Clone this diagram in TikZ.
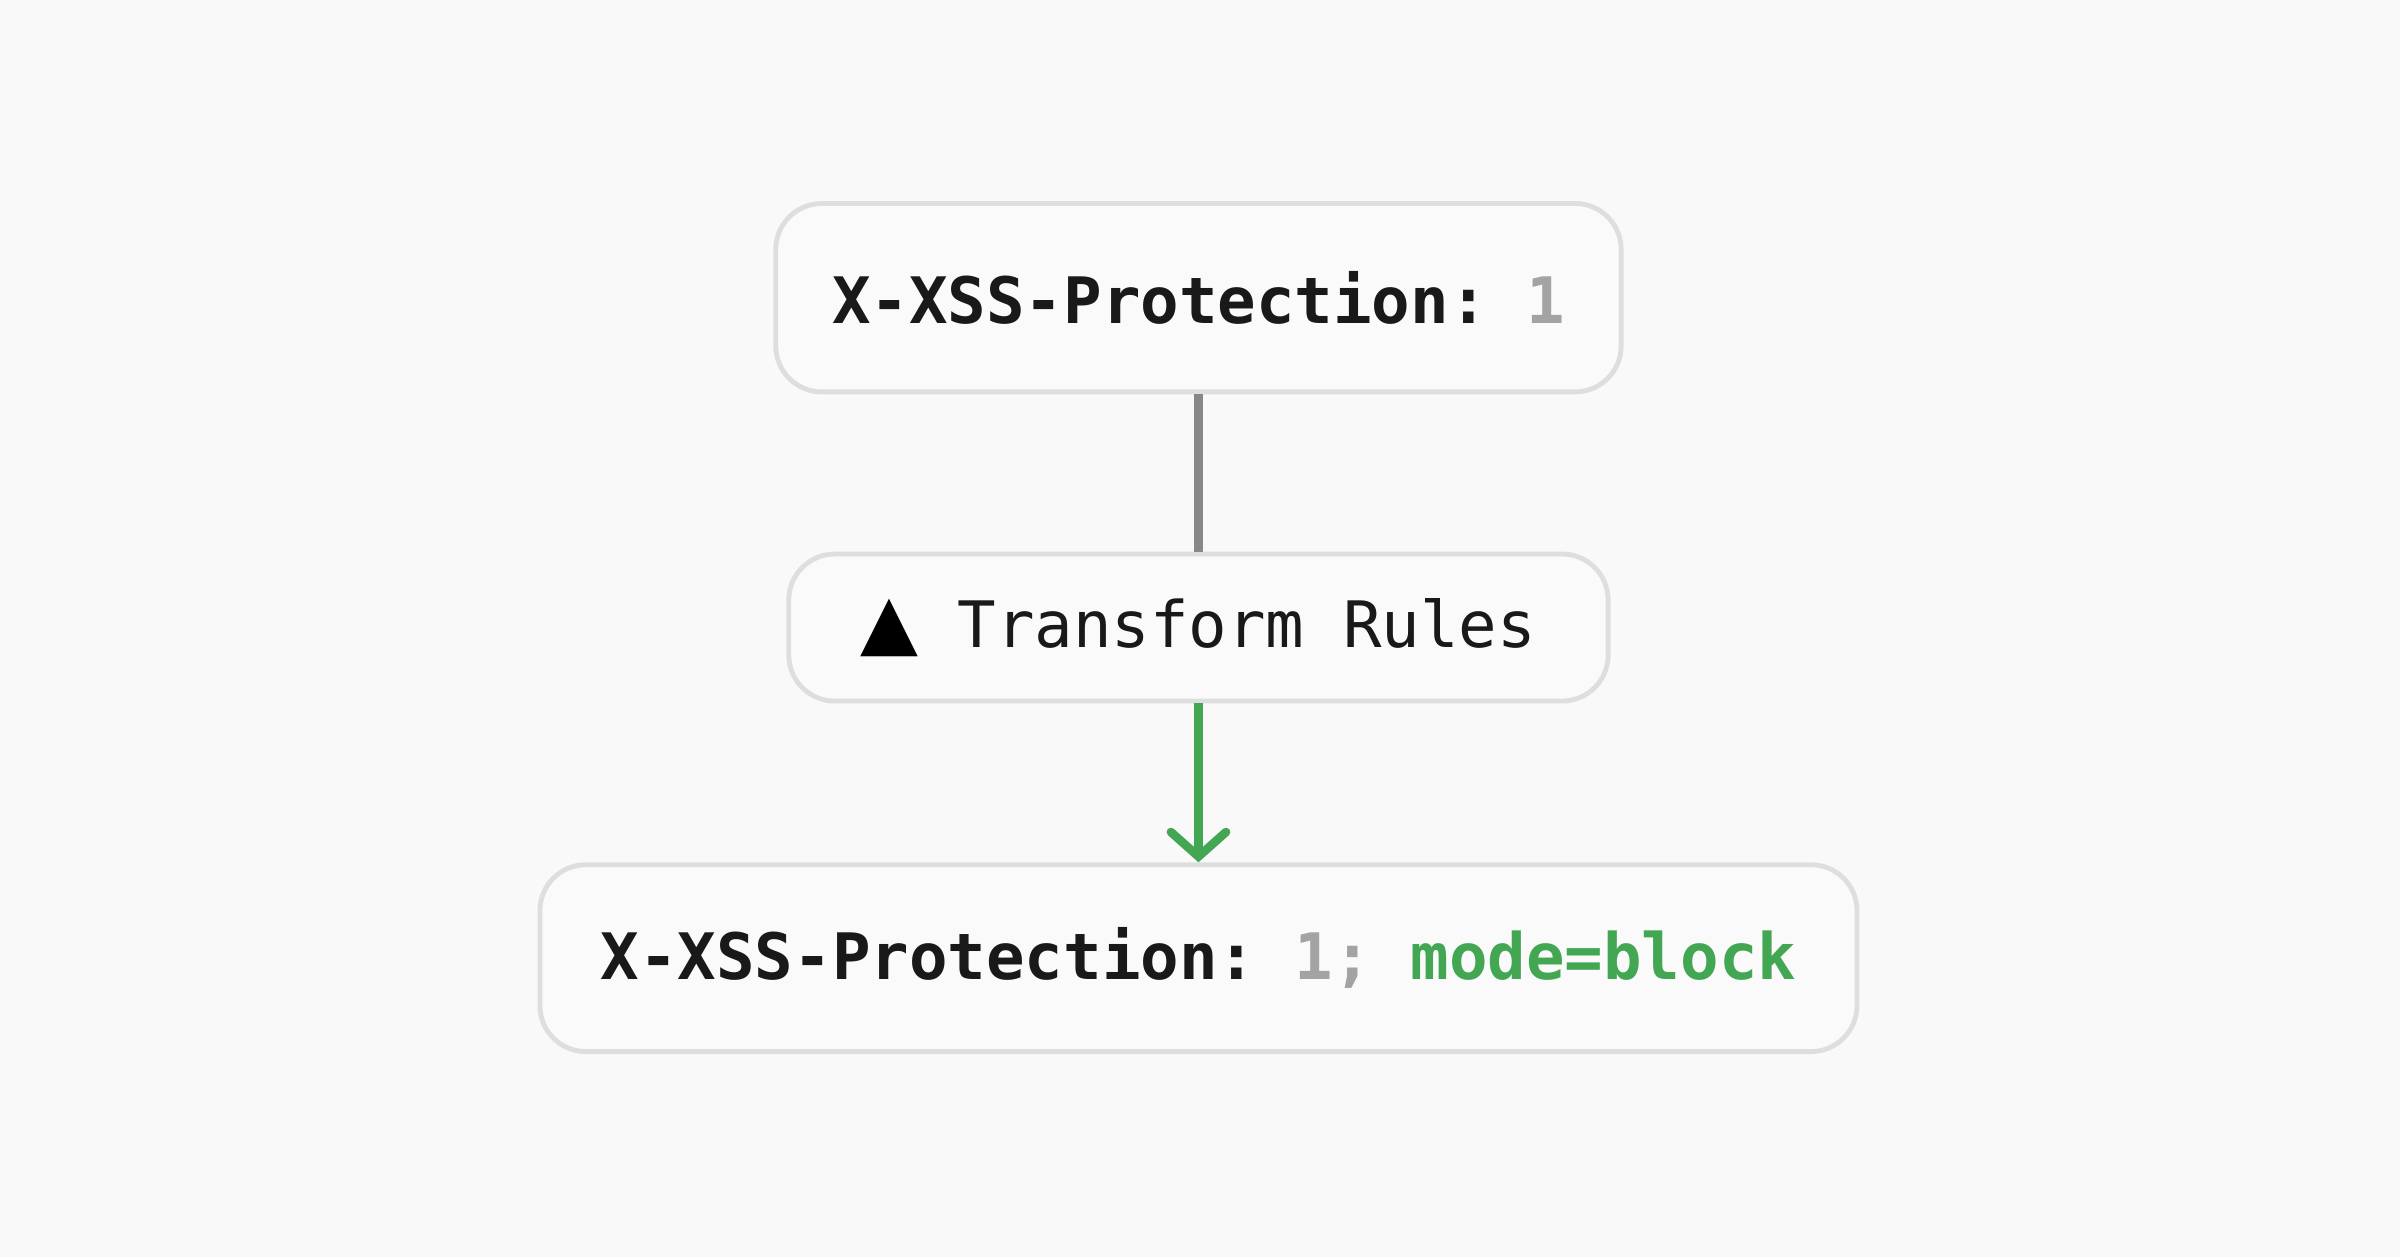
\documentclass[tikz,border=0pt]{standalone}
\usepackage{fontspec}
\setmonofont{DejaVu Sans Mono}
\newfontfamily\symfont{DejaVu Sans}
\usetikzlibrary{positioning,arrows.meta}
\definecolor{bgcol}{HTML}{F9F9F9}
\definecolor{boxcol}{HTML}{FAFAFA}
\definecolor{edgecol}{HTML}{DEDEDE}
\definecolor{dimcol}{HTML}{A3A3A3}
\definecolor{linecol}{HTML}{888888}
\definecolor{okgreen}{HTML}{43A653}
\tikzset{
  header/.style={draw=edgecol, line width=0.9pt, fill=boxcol, rounded corners=0.3cm,
    font=\ttfamily\fontsize{11.9}{14}\selectfont, text=black!90, inner sep=0pt},
}
\begin{document}
\begin{tikzpicture}[x=0.01cm,y=-0.01cm]
      \fill[bgcol] (0,0) rectangle (1568,821);
      \useasboundingbox (0,0) rectangle (1568,821);

      \node[header, minimum width=5.52cm, minimum height=1.23cm] (request) at (783,194.5)
      {\bfseries X-XSS-Protection: \textcolor{dimcol}{1}};
      \node[header, minimum width=5.35cm, minimum height=0.96cm] (rules) at (783,410)
      {{\symfont\fontsize{14}{14}\selectfont\color{black} ▲} Transform Rules};
      \node[header, minimum width=8.6cm, minimum height=1.22cm] (response) at (783,626)
      {\bfseries X-XSS-Protection: \textcolor{dimcol}{1;} \textcolor{okgreen}{mode=block}};

      \draw[linecol, line width=1.6pt] (request.south) -- (rules.north);
      \draw[okgreen, line width=1.6pt, -{Straight Barb[length=0.16cm, width=0.36cm, line cap=round]}]
      (rules.south) -- (response.north);
\end{tikzpicture}
\end{document}
